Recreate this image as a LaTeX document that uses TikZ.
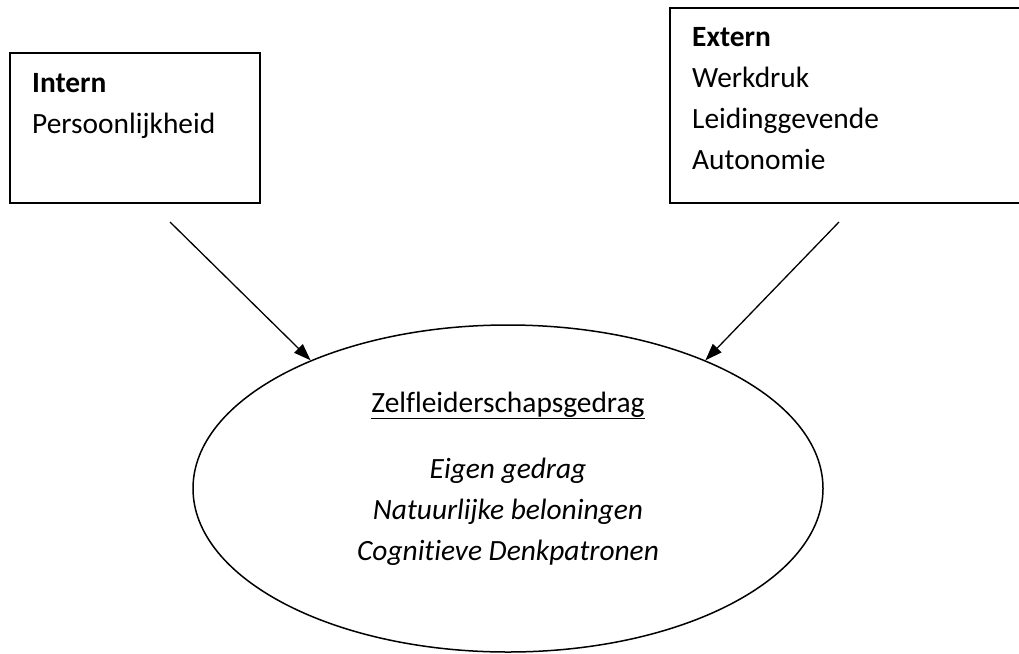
\documentclass[tikz,border=0pt]{standalone}
\usepackage{fontspec}
\setmainfont{Carlito}[Ligatures={TeX,NoCommon}]
\usetikzlibrary{shapes.geometric,arrows.meta}
\begin{document}
\begin{tikzpicture}[x=1pt,y=-1pt,
  boxline/.style={draw=black,line width=2.2pt},
  lbl/.style={anchor=base west,inner sep=0pt,font=\fontsize{29.4}{35}\selectfont},
  clbl/.style={anchor=base,inner sep=0pt,font=\fontsize{29.4}{35}\selectfont},
  conn/.style={draw=black,line width=1.3pt,-{Triangle[length=17pt,width=12pt]}}]
\useasboundingbox (0,0) rectangle (1019,653);
% boxes
\draw[boxline] (10,53) rectangle (260,203);
\draw[boxline] (670,8) rectangle (1030,203);
% ellipse
\node[ellipse,draw=black,line width=1.5pt,minimum width=630pt,minimum height=327pt,inner sep=0pt] (ell) at (508,488.5) {};
% texts
\node[lbl] (intern) at (32,92) {\bfseries Intern};
\node[lbl] (pers) at (32,133) {Persoonlijkheid};
\node[lbl] (extern) at (692,46) {\bfseries Extern};
\node[lbl] (werk) at (692,87) {Werkdruk};
\node[lbl] (leid) at (692,128) {Leidinggevende};
\node[lbl] (auto) at (692,169) {Autonomie};
\node[clbl] (zelf) at (508,412) {\underline{Zelfleiderschapsgedrag}};
\node[clbl] (eigen) at (508,478) {\itshape Eigen gedrag};
\node[clbl] (natuur) at (508,519) {\itshape Natuurlijke beloningen};
\node[clbl] (cogn) at (508,560) {\itshape Cognitieve Denkpatronen};
% connectors
\coordinate (ls) at (170,222);
\coordinate (rs) at (839,222);
\draw[conn] (ls) -- (ell.147);
\draw[conn] (rs) -- (ell.33);
\end{tikzpicture}
\end{document}
